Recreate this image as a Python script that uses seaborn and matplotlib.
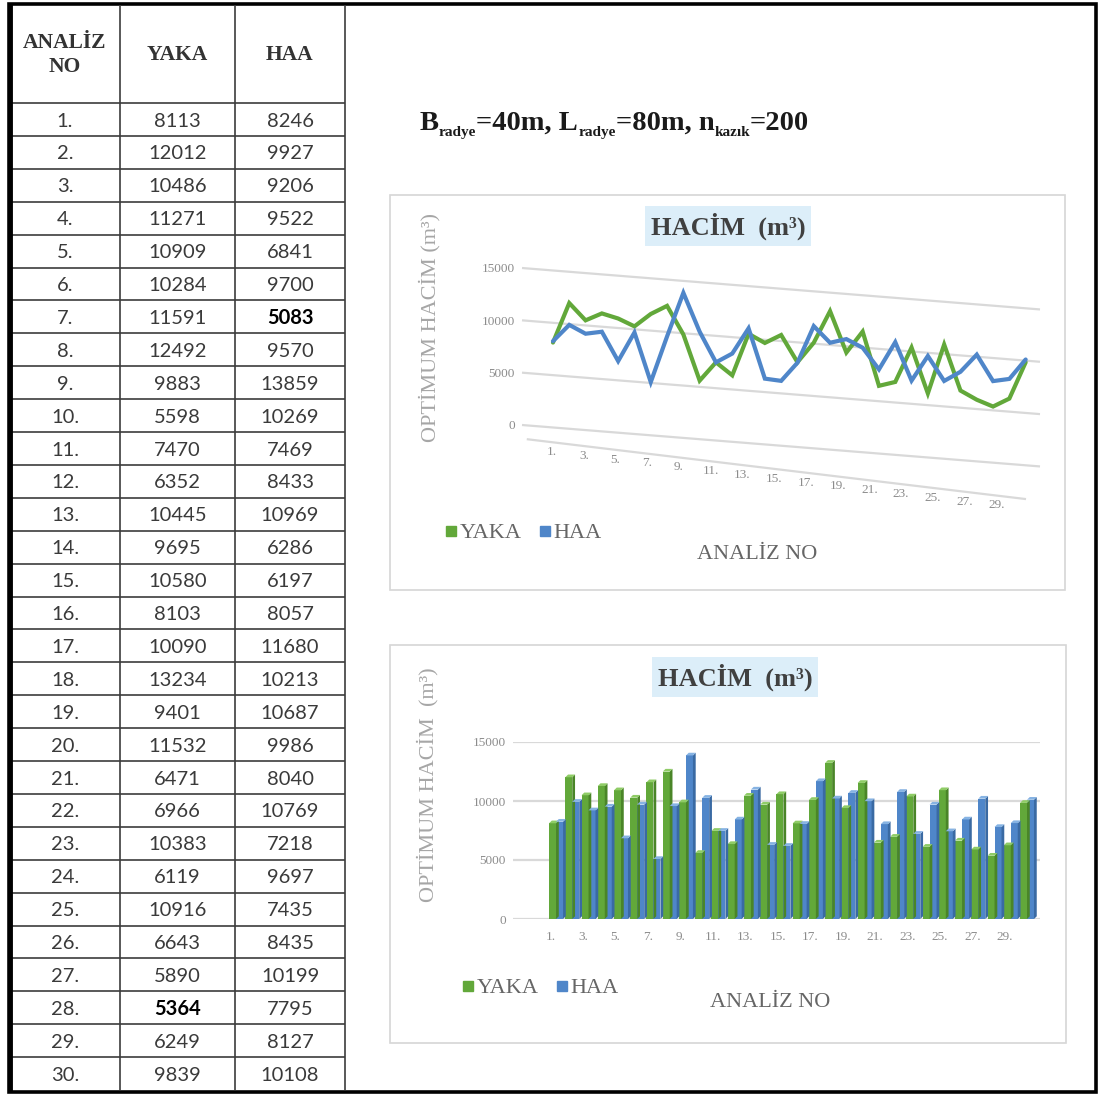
import numpy as np
import pandas as pd
import matplotlib
matplotlib.use("Agg")
import matplotlib.pyplot as plt
import seaborn as sns
from matplotlib.transforms import Affine2D
from matplotlib.patches import Rectangle, Polygon
from matplotlib.lines import Line2D

# ---- data -------------------------------------------------------------
analiz_no = [1, 2, 3, 4, 5, 6, 7, 8, 9, 10, 11, 12, 13, 14, 15,
             16, 17, 18, 19, 20, 21, 22, 23, 24, 25, 26, 27, 28, 29, 30]
yaka = [8113, 12012, 10486, 11271, 10909, 10284, 11591, 12492, 9883, 5598,
        7470, 6352, 10445, 9695, 10580, 8103, 10090, 13234, 9401, 11532,
        6471, 6966, 10383, 6119, 10916, 6643, 5890, 5364, 6249, 9839]
haa = [8246, 9927, 9206, 9522, 6841, 9700, 5083, 9570, 13859, 10269,
       7469, 8433, 10969, 6286, 6197, 8057, 11680, 10213, 10687, 9986,
       8040, 10769, 7218, 9697, 7435, 8435, 10199, 7795, 8127, 10108]
series_names = ["YAKA", "HAA"]
y_ticks = [0, 5000, 10000, 15000]

sns.set_theme(style="white")
SERIF = ["Liberation Serif", "DejaVu Serif"]
plt.rcParams["font.family"] = SERIF

GREEN = "#62a83a"
BLUE = "#4f86c9"
palette = {"YAKA": GREEN, "HAA": BLUE}
GRID = "#d9d9d9"
TICK = "#8c8c8c"
TXT = "#666666"

W, H = 1100, 1095
fig = plt.figure(figsize=(W / 100, H / 100), dpi=100)
fig.patch.set_facecolor("white")


def fx(px):
    return px / W


def fy(py):
    return 1 - py / H


long = pd.DataFrame({
    "no": analiz_no * 2,
    "idx": list(range(len(analiz_no))) * 2,
    "value": yaka + haa,
    "series": ["YAKA"] * len(yaka) + ["HAA"] * len(haa),
})

# ---- page layer: table + frames ---------------------------------------
bg = fig.add_axes([0, 0, 1, 1], zorder=-5)
bg.set_xlim(0, W)
bg.set_ylim(H, 0)
bg.axis("off")

col_x = [10, 120, 235, 345]
head_top, head_bot, tab_bot = 5, 103, 1090
row_h = (tab_bot - head_bot) / len(analiz_no)
bg.vlines(col_x[1:], head_top, tab_bot, color="#3c3c3c", lw=1.2)
bg.hlines([head_bot + row_h * k for k in range(len(analiz_no))], col_x[0], col_x[-1],
          color="#3c3c3c", lw=1.2)
bg.add_patch(Rectangle((9, 4), 1087, 1088, fill=False, ec="black", lw=2.6))
bg.vlines([10], 4, 1092, color="black", lw=3.5)

ccx = [(col_x[k] + col_x[k + 1]) / 2 for k in range(3)]
bg.text(ccx[0], 55, "ANALİZ\nNO", ha="center", va="center", fontsize=15.5,
        fontweight="bold", color="#333333", linespacing=1.2)
bg.text(ccx[1], 55, "YAKA", ha="center", va="center", fontsize=15.5,
        fontweight="bold", color="#333333")
bg.text(ccx[2], 55, "HAA", ha="center", va="center", fontsize=15.5,
        fontweight="bold", color="#333333")
imin_y, imin_h = int(np.argmin(yaka)), int(np.argmin(haa))
for r, n in enumerate(analiz_no):
    yc = head_bot + row_h * (r + 0.55)
    bg.text(ccx[0], yc, f"{n}.", ha="center", va="center", fontsize=14.5,
            family="Lato", color="#3a3a3a")
    bg.text(ccx[1], yc, f"{yaka[r]}", ha="center", va="center", fontsize=14.5,
            family="Lato", color="black" if r == imin_y else "#3a3a3a",
            fontweight="bold" if r == imin_y else "normal")
    bg.text(ccx[2], yc, f"{haa[r]}", ha="center", va="center", fontsize=14.5,
            family="Lato", color="black" if r == imin_h else "#3a3a3a",
            fontweight="bold" if r == imin_h else "normal")

# chart frames
bg.add_patch(Rectangle((390, 195), 675, 395, fill=False, ec="#d6d6d6", lw=1.2))
bg.add_patch(Rectangle((390, 645), 676, 398, fill=False, ec="#d6d6d6", lw=1.2))

# parameter line with subscripts
parts = [("B", False), ("radye", True), ("=40m, L", False), ("radye", True),
         ("=80m, n", False), ("kazık", True), ("=200", False)]
prev = fig.text(fx(420), fy(130), parts[0][0], fontsize=20.5, fontweight="bold",
                color="#1a1a1a", va="baseline")
was_sub = False
for txt, sub in parts[1:]:
    off = -2.5 if sub else (2.5 if was_sub else 0)
    prev = fig.axes[0].annotate(txt, xy=(1, 0), xycoords=prev, xytext=(0, off),
                                textcoords="offset points", va="bottom", ha="left",
                                fontsize=11 if sub else 20.5, fontweight="bold",
                                color="#1a1a1a", annotation_clip=False)
    was_sub = sub


def title_box(cx, cy, text):
    fig.text(fx(cx), fy(cy), text, ha="center", va="center", fontsize=19,
             fontweight="bold", color="#404040",
             bbox=dict(boxstyle="square,pad=0.22", fc="#dceef9", ec="none"))


def legend_at(px, py):
    handles = [Line2D([], [], marker="s", ls="none", ms=6.5, color=palette[s])
               for s in series_names]
    fig.legend(handles, series_names, loc="center left",
               bbox_to_anchor=(fx(px), fy(py)), frameon=False, ncol=2,
               handlelength=0.5, handletextpad=0.15, columnspacing=0.8,
               borderpad=0, borderaxespad=0,
               prop={"family": SERIF, "size": 16}, labelcolor=TXT)


# ---- chart 1: perspective line chart ---------------------------------
ax1 = fig.add_axes([fx(522), fy(425), (1040 - 522) / W, (425 - 268) / H])
ax1.set_xlim(-1.9, 29.88)
ax1.set_ylim(0, 15000)
sns.lineplot(data=long, x="idx", y="value", hue="series", hue_order=series_names,
             palette=palette, lw=3.0, ax=ax1, legend=False)

x0 = ax1.transAxes.transform((0, 0))[0]
skew_main = Affine2D().translate(-x0, 0).skew(0, np.arctan(-0.08)).translate(x0, 0)
T_main = ax1.transData + skew_main
skew_lab = (Affine2D().translate(-x0, 0).scale(0.973, 1)
            .skew(0, np.arctan(-0.12)).translate(x0, 0))
T_lab = ax1.transData + skew_lab

for ln in ax1.lines:
    ln.set_transform(T_main)
    ln.set_clip_on(False)
    ln.set_solid_joinstyle("miter")

xl = ax1.get_xlim()
ax1.hlines(y_ticks, xl[0], xl[1], colors=GRID, lw=1.6, transform=T_main,
           clip_on=False, zorder=0)
ax1.hlines([-1300], xl[0] + 0.3, xl[1], colors=GRID, lw=1.6, transform=T_lab,
           clip_on=False, zorder=0)
for i in range(0, len(analiz_no), 2):
    ax1.text(i, -2240, f"{analiz_no[i]}.", transform=T_lab, ha="center",
             va="center", fontsize=9.5, color=TICK, clip_on=False)
ax1.set_xlim(*xl)
ax1.set_ylim(0, 15000)
ax1.set_xticks([])
ax1.set_yticks(y_ticks)
ax1.set_yticklabels([str(v) for v in y_ticks])
ax1.tick_params(axis="y", length=0, pad=5, labelsize=9.5, labelcolor=TICK)
for s in ax1.spines.values():
    s.set_visible(False)
ax1.set_facecolor("none")
ax1.set_xlabel("ANALİZ NO", fontsize=16, color=TXT)
ax1.xaxis.set_label_coords((757 - 522) / (1040 - 522), (425 - 545) / (425 - 268))
ax1.set_ylabel("OPTİMUM HACİM (m³)", fontsize=16, color="#a6a6a6")
ax1.yaxis.set_label_coords((440 - 522) / (1040 - 522), (425 - 328) / (425 - 268))
title_box(728, 226, "HACİM  (m³)")
legend_at(445, 533)

# ---- chart 2: 3-D style clustered columns ----------------------------
ax2 = fig.add_axes([fx(513), fy(919), (1040 - 513) / W, (919 - 742) / H])
ax2.hlines(y_ticks, -2.65, 29.8, colors=GRID, lw=1.6, zorder=0)
sns.barplot(data=long, x="no", y="value", hue="series", hue_order=series_names,
            order=analiz_no, palette=palette, saturation=1, width=0.86,
            errorbar=None, legend=False, ax=ax2, zorder=2)

side_col = {GREEN: "#4a8528", BLUE: "#3a6aa3"}
top_col = {GREEN: "#8fcc66", BLUE: "#86b3e3"}
dx, dy = 0.17, 230
for p in list(ax2.patches):
    xb, wb, hb = p.get_x(), p.get_width(), p.get_height()
    fc = matplotlib.colors.to_hex(p.get_facecolor())
    key = GREEN if fc.lower() == GREEN else BLUE
    p.set_edgecolor("none")
    ax2.add_patch(Polygon([(xb + wb, 0), (xb + wb + dx, dy), (xb + wb + dx, hb + dy),
                           (xb + wb, hb)], closed=True, fc=side_col[key], ec="none",
                          zorder=p.get_zorder()))
    ax2.add_patch(Polygon([(xb, hb), (xb + dx, hb + dy), (xb + wb + dx, hb + dy),
                           (xb + wb, hb)], closed=True, fc=top_col[key], ec="none",
                          zorder=p.get_zorder()))

ax2.set_xlim(-2.65, 29.8)
ax2.set_ylim(0, 15000)
ax2.set_yticks(y_ticks)
ax2.set_yticklabels([str(v) for v in y_ticks])
tick_pos = np.arange(0, len(analiz_no), 2) - 0.35
ax2.set_xticks(tick_pos)
ax2.set_xticklabels([f"{analiz_no[i]}." for i in range(0, len(analiz_no), 2)])
ax2.tick_params(axis="y", length=0, pad=5, labelsize=9.5, labelcolor=TICK)
ax2.tick_params(axis="x", length=0, pad=9, labelsize=9.5, labelcolor=TICK)
for s in ax2.spines.values():
    s.set_visible(False)
ax2.set_facecolor("none")
ax2.set_xlabel("ANALİZ NO", fontsize=16, color=TXT)
ax2.xaxis.set_label_coords((770 - 513) / (1040 - 513), (919 - 993) / (919 - 742))
ax2.set_ylabel("OPTİMUM HACİM  (m³)", fontsize=16, color="#a6a6a6")
ax2.yaxis.set_label_coords((438 - 513) / (1040 - 513), (919 - 785) / (919 - 742))
title_box(735, 677, "HACİM  (m³)")
legend_at(462, 988)

fig.savefig("out.png", dpi=100, facecolor="white")
